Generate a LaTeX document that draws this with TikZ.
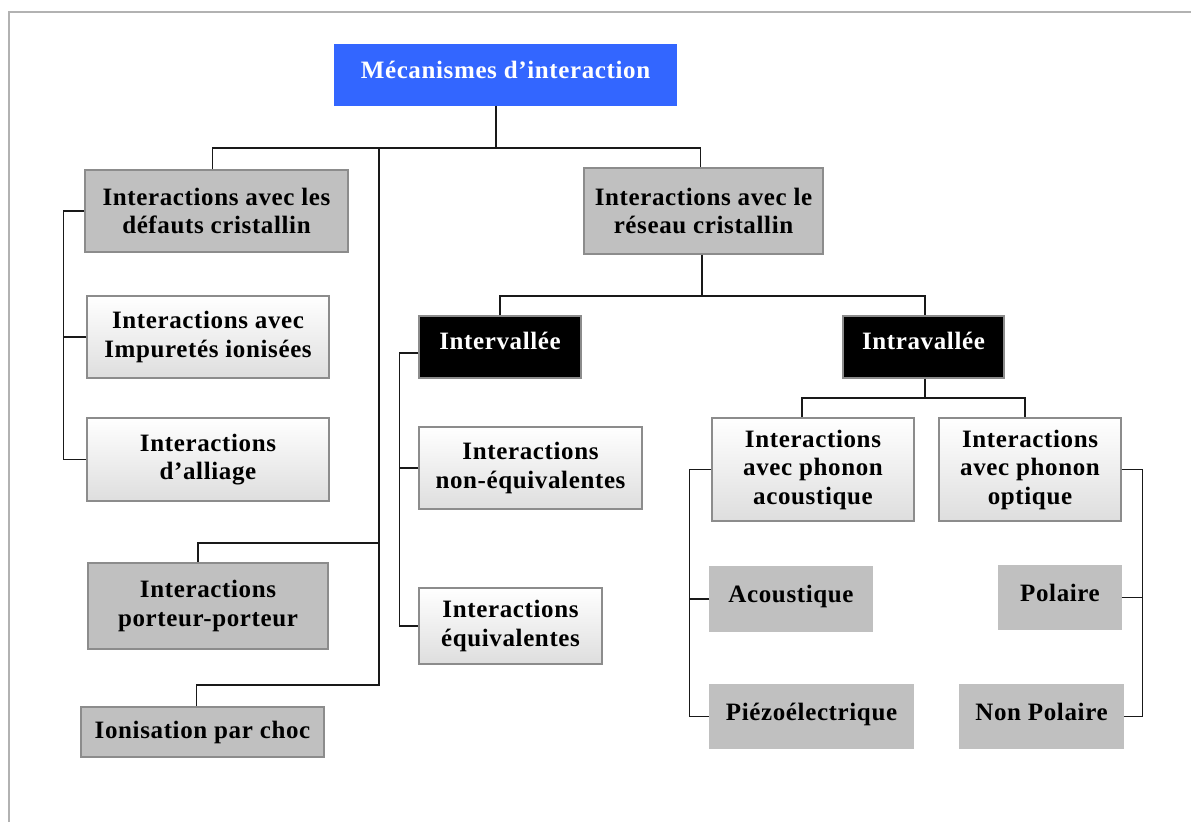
\documentclass[tikz,border=0pt]{standalone}
\usepackage{fontspec}
\setmainfont[LetterSpace=2.5]{Liberation Serif}
\usepackage{tikz}
\usetikzlibrary{positioning}
\definecolor{bleumeca}{RGB}{51,102,255}
\definecolor{grisbox}{RGB}{192,192,192}
\definecolor{bordbox}{RGB}{140,140,140}
\tikzset{
	boite/.style={draw=bordbox, line width=1.2pt, inner sep=0pt, align=center, font=\bfseries\fontsize{25}{28.5}\selectfont},
	gris/.style={boite, fill=grisbox},
	grisnu/.style={gris, draw=grisbox},
	degrade/.style={boite, top color=white, bottom color=black!13},
	noir/.style={boite, fill=black, text=white},
	bleu/.style={boite, fill=bleumeca, draw=bleumeca, text=white},
	lien/.style={draw=black!90, line width=1.7pt}
}

\begin{document}
\begin{tikzpicture}[x=1pt,y=-1pt]
	\useasboundingbox (0,0) rectangle (1191,822);
	% cadre
	\draw[black!30, line width=1.5pt] (9,822) -- (9,12) -- (1191,12);
	
	\node[bleu, minimum width=341pt, minimum height=60pt, text depth=10pt] (meca) at (505.5,75) {Mécanismes d’interaction};
	
	\node[gris, minimum width=263pt, minimum height=82pt] (defauts) at (216.5,211) {Interactions avec les\\défauts cristallin};
	\node[degrade, minimum width=242pt, minimum height=82pt] (impur) at (208,337) {Interactions avec\\Impuretés ionisées};
	\node[degrade, minimum width=242pt, minimum height=83pt] (alliage) at (208,459.5) {Interactions\\d’alliage};
	\node[gris, minimum width=240pt, minimum height=86pt] (porteur) at (208,606) {Interactions\\porteur-porteur};
	\node[gris, minimum width=243pt, minimum height=50pt] (choc) at (202.5,732) {Ionisation par choc};
	
	\node[gris, minimum width=239pt, minimum height=86pt] (reseau) at (703.5,211) {Interactions avec le\\réseau cristallin};
	\node[noir, minimum width=162pt, minimum height=62pt, text depth=12pt] (interv) at (500,347) {Intervallée};
	\node[noir, minimum width=161pt, minimum height=62pt, text depth=12pt] (intrav) at (923.5,347) {Intravallée};
	\node[degrade, minimum width=223pt, minimum height=82pt] (nonequiv) at (530.5,468) {Interactions\\non-équivalentes};
	\node[degrade, minimum width=183pt, minimum height=76pt] (equiv) at (510.5,626) {Interactions\\équivalentes};
	
	\node[degrade, minimum width=202pt, minimum height=103pt] (phac) at (813,469.5) {Interactions\\avec phonon\\acoustique};
	\node[degrade, minimum width=182pt, minimum height=103pt] (phopt) at (1030,469.5) {Interactions\\avec phonon\\optique};
	\node[grisnu, minimum width=162pt, minimum height=64pt, text depth=10pt] (acous) at (791,599) {Acoustique};
	\node[grisnu, minimum width=203pt, minimum height=63pt, text depth=10pt] (piezo) at (811.5,716.5) {Piézoélectrique};
	\node[grisnu, minimum width=122pt, minimum height=63pt, text depth=10pt] (polaire) at (1060,597.5) {Polaire};
	\node[grisnu, minimum width=163pt, minimum height=63pt, text depth=10pt] (nonpol) at (1041.5,716.5) {Non Polaire};
	
	% liens
	\coordinate (b1) at (496,148);
	\coordinate (t2) at (379,543);
	\coordinate (t3) at (379,685);
	\draw[lien] (meca.south -| b1) -- (b1);
	\draw[lien] ([xshift=-4pt]defauts.north) |- (b1) -| ([xshift=-3pt]reseau.north);
	\draw[lien] (b1 -| t2) -- (t3) -| ([xshift=-6pt]choc.north);
	\draw[lien] (t2) -| ([xshift=-10pt]porteur.north);
	\draw[lien] (defauts.west) -- ++(-21,0) |- (alliage.west);
	\draw[lien] (impur.west) -- ++(-23,0);
	
	\coordinate (b2) at (702,296);
	\draw[lien] (reseau.south -| b2) -- (b2);
	\draw[lien] (interv.north) |- (b2) -| ([xshift=1.5pt]intrav.north);
	\draw[lien] ([yshift=-6pt]interv.west) -- ++(-19,0) |- (equiv.west);
	\draw[lien] (nonequiv.west) -- ++(-19,0);
	
	\coordinate (b3) at (925,398);
	\draw[lien] (intrav.south -| b3) -- (b3);
	\draw[lien] ([xshift=-11pt]phac.north) |- (b3) -| ([xshift=-5pt]phopt.north);
	\draw[lien] (phac.west) -- ++(-22,0) |- (piezo.west);
	\draw[lien] (acous.west) -- ++(-20,0);
	\draw[lien] (phopt.east) -- ++(21,0) |- (nonpol.east);
	\draw[lien] (polaire.east) -- ++(21,0);
\end{tikzpicture}
\end{document}
